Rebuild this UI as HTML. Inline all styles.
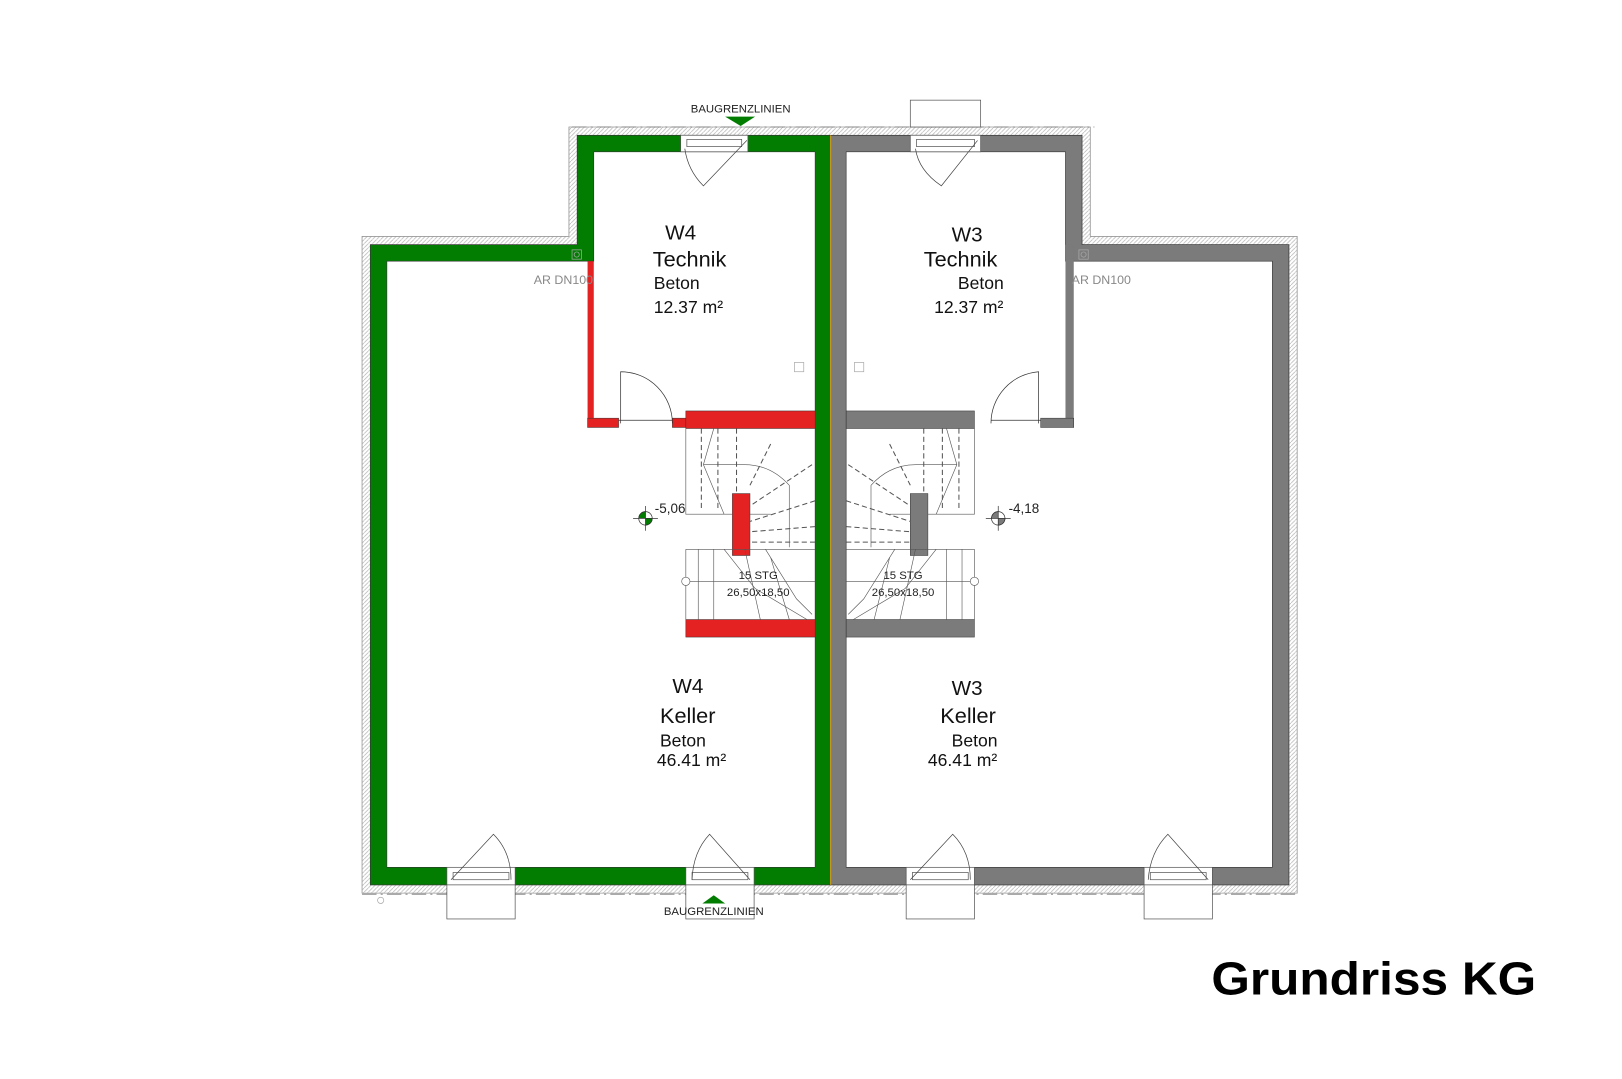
<!DOCTYPE html>
<html><head><meta charset="utf-8"><style>
html,body{margin:0;padding:0;background:#fff;overflow:hidden}
svg{display:block}
text{font-family:"Liberation Sans",sans-serif}
</style></head><body>
<svg width="1622" height="1079" viewBox="0 0 1568 1045" preserveAspectRatio="none" xmlns="http://www.w3.org/2000/svg">
<defs>
<pattern id="h" width="4" height="4" patternUnits="userSpaceOnUse"><path d="M0 4L4 0" stroke="#bbb" stroke-width="0.8"/></pattern>
</defs>
<rect width="1568" height="1045" fill="#fff"/>
<!-- hatched outer band -->
<path d="M350 229H550V123H1054V229H1254V865H350Z M358 237V857H1246V237H1046V131H558V237Z" fill="url(#h)" fill-rule="evenodd" stroke="#999" stroke-width="0.8"/>
<!-- dash-dot lines -->
<line x1="553" y1="123" x2="1058" y2="123" stroke="#777" stroke-width="0.8" stroke-dasharray="14 4 2 4"/>
<line x1="350" y1="866" x2="1256" y2="866" stroke="#777" stroke-width="0.8" stroke-dasharray="14 4 2 4"/>
<!-- green unit -->
<path d="M358 237H558V131H803V857H358Z M374 253V840H788V147H574V253Z" fill="#027d02" fill-rule="evenodd" stroke="#333" stroke-width="0.6"/>
<!-- grey unit -->
<path d="M803 131H1046V237H1246V857H803Z M818 147V840H1230V253H1030V147Z" fill="#7b7b7b" fill-rule="evenodd" stroke="#333" stroke-width="0.6"/>
<line x1="803" y1="131" x2="803" y2="857" stroke="#e0a020" stroke-width="1"/>
<!-- red interior walls -->
<rect x="568" y="253" width="6" height="161" fill="#e52222"/>
<rect x="568" y="405" width="30" height="9" fill="#e52222" stroke="#333" stroke-width="0.5"/>
<rect x="650" y="405" width="13" height="9" fill="#e52222" stroke="#333" stroke-width="0.5"/>
<rect x="663" y="398" width="125" height="17" fill="#e52222" stroke="#333" stroke-width="0.5"/>
<rect x="663" y="600" width="125" height="17" fill="#e52222" stroke="#333" stroke-width="0.5"/>
<rect x="708" y="478" width="17" height="60" fill="#e52222" stroke="#333" stroke-width="0.5"/>
<!-- grey interior walls -->
<rect x="1030" y="237" width="8" height="177" fill="#7b7b7b"/>
<rect x="1006" y="405" width="32" height="9" fill="#7b7b7b" stroke="#333" stroke-width="0.5"/>
<rect x="818" y="398" width="124" height="17" fill="#7b7b7b" stroke="#333" stroke-width="0.5"/>
<rect x="818" y="600" width="124" height="17" fill="#7b7b7b" stroke="#333" stroke-width="0.5"/>
<rect x="880" y="478" width="17" height="60" fill="#7b7b7b" stroke="#333" stroke-width="0.5"/>
<!-- technik doors -->
<g fill="none" stroke="#333" stroke-width="0.7">
<path d="M600 410V360A50 50 0 0 1 650 410"/>
<line x1="598" y1="407" x2="650" y2="407"/>
<path d="M1004 410V360A50 50 0 0 0 958 410"/>
<line x1="958" y1="407" x2="1006" y2="407"/>
</g>
<!-- top openings -->
<g fill="#fff" stroke="#555" stroke-width="0.7">
<rect x="658" y="131" width="65" height="16"/>
<rect x="664" y="135" width="53" height="7"/>
<rect x="880" y="131" width="68" height="16"/>
<rect x="886" y="135" width="56" height="7"/>
<rect x="880" y="97" width="68" height="26"/>
</g>
<g fill="none" stroke="#444" stroke-width="0.7">
<path d="M662 144Q665 165 680 180L722 136"/>
<path d="M885 144Q888 165 910 180L945 136"/>
</g>
<!-- bottom openings -->
<g fill="#fff" stroke="#555" stroke-width="0.7">
<rect x="432" y="840" width="66" height="17"/><rect x="438" y="845" width="54" height="7"/><rect x="432" y="857" width="66" height="33"/>
<rect x="663" y="840" width="66" height="17"/><rect x="669" y="845" width="54" height="7"/><rect x="663" y="857" width="66" height="33"/>
<rect x="876" y="840" width="66" height="17"/><rect x="882" y="845" width="54" height="7"/><rect x="876" y="857" width="66" height="33"/>
<rect x="1106" y="840" width="66" height="17"/><rect x="1112" y="845" width="54" height="7"/><rect x="1106" y="857" width="66" height="33"/>
</g>
<g fill="none" stroke="#444" stroke-width="0.7">
<path d="M436 852L477 808Q494 825 494 852"/>
<path d="M725 852L686 808Q670 825 669 852"/>
<path d="M880 852L921 808Q938 825 938 852"/>
<path d="M1168 852L1129 808Q1112 825 1110 852"/>
</g>
<!-- stairs left -->
<g fill="none" stroke="#555" stroke-width="0.6">
<path d="M663 415V498H708M725 498H745M663 532H788M663 532V600"/>
<path d="M680 450H720Q745 450 763 470V530"/>
<line x1="663" y1="563" x2="788" y2="563"/>
<path d="M680 450L690 415M680 450L700 498M740 532L770 580L785 595M700 532L730 570L780 600"/>
<line x1="690" y1="532" x2="690" y2="600"/><line x1="675" y1="532" x2="675" y2="600"/>
<line x1="720" y1="532" x2="735" y2="600"/><line x1="745" y1="540" x2="763" y2="600"/>
</g>
<g fill="none" stroke="#555" stroke-width="1" stroke-dasharray="5 3">
<path d="M678 415V495M694 415V495M712 415V478M745 430L725 470M785 450L725 490M788 485L725 505M788 510L725 515M788 525L725 525"/>
</g>
<circle cx="663" cy="563" r="4" fill="#fff" stroke="#555" stroke-width="0.6"/>
<!-- stairs right -->
<g fill="none" stroke="#555" stroke-width="0.6">
<path d="M942 415V498H897M880 498H860M942 532H818M942 532V600"/>
<path d="M925 450H885Q860 450 842 470V530"/>
<line x1="818" y1="563" x2="942" y2="563"/>
<path d="M925 450L915 415M925 450L905 498M865 532L835 580L820 595M905 532L875 570L825 600"/>
<line x1="915" y1="532" x2="915" y2="600"/><line x1="930" y1="532" x2="930" y2="600"/>
<line x1="885" y1="532" x2="870" y2="600"/><line x1="860" y1="540" x2="845" y2="600"/>
</g>
<g fill="none" stroke="#555" stroke-width="1" stroke-dasharray="5 3">
<path d="M927 415V495M911 415V495M893 415V478M860 430L880 470M820 450L880 490M818 485L880 505M818 510L880 515M818 525L880 525"/>
</g>
<circle cx="942" cy="563" r="4" fill="#fff" stroke="#555" stroke-width="0.6"/>
<!-- stair labels -->
<g font-size="11" fill="#222" text-anchor="middle">
<text x="733" y="561">15 STG</text><text x="733" y="577">26,50x18,50</text>
<text x="873" y="561">15 STG</text><text x="873" y="577">26,50x18,50</text>
</g>
<!-- level markers -->
<g stroke="#333" stroke-width="0.7">
<line x1="612" y1="502" x2="636" y2="502"/><line x1="624" y1="490" x2="624" y2="514"/>
<circle cx="624" cy="502" r="6.5" fill="#fff"/>
<path d="M624 502H630.5A6.5 6.5 0 0 1 624 508.5Z M624 502H617.5A6.5 6.5 0 0 1 624 495.5Z" fill="#027d02"/>
<line x1="953" y1="502" x2="977" y2="502"/><line x1="965" y1="490" x2="965" y2="514"/>
<circle cx="965" cy="502" r="6.5" fill="#fff"/>
<path d="M965 502H971.5A6.5 6.5 0 0 1 965 508.5Z M965 502H958.5A6.5 6.5 0 0 1 965 495.5Z" fill="#7b7b7b"/>
</g>
<text x="633" y="497" font-size="13" fill="#222">-5,06</text>
<text x="975" y="497" font-size="13" fill="#222">-4,18</text>
<!-- small drains -->
<g fill="none" stroke="#aaa" stroke-width="0.7">
<rect x="553" y="242" width="9" height="9"/><circle cx="557.5" cy="246.5" r="2.5"/>
<rect x="1043" y="242" width="9" height="9"/><circle cx="1047.5" cy="246.5" r="2.5"/>
<rect x="768" y="351" width="9" height="9"/><rect x="826" y="351" width="9" height="9"/>
<circle cx="368" cy="872" r="3"/>
</g>
<text x="516" y="275" font-size="12" fill="#888">AR DN100</text>
<text x="1036" y="275" font-size="12" fill="#888">AR DN100</text>
<!-- baugrenzlinien -->
<text x="716" y="109" font-size="11" fill="#222" text-anchor="middle">BAUGRENZLINIEN</text>
<path d="M701 113H730L716 122Z" fill="#027d02"/>
<path d="M679 875H701L690 867Z" fill="#027d02"/>
<text x="690" y="886" font-size="11" fill="#222" text-anchor="middle">BAUGRENZLINIEN</text>
<!-- room labels -->
<g fill="#111">
<text x="643" y="232" font-size="20">W4</text>
<text x="631" y="258" font-size="21">Technik</text>
<text x="632" y="280" font-size="17">Beton</text>
<text x="632" y="303" font-size="17">12.37 m²</text>
<text x="920" y="234" font-size="20">W3</text>
<text x="893" y="258" font-size="21">Technik</text>
<text x="926" y="280" font-size="17">Beton</text>
<text x="903" y="303" font-size="17">12.37 m²</text>
<text x="650" y="671" font-size="20">W4</text>
<text x="638" y="700" font-size="21">Keller</text>
<text x="638" y="723" font-size="17">Beton</text>
<text x="635" y="742" font-size="17">46.41 m²</text>
<text x="920" y="673" font-size="20">W3</text>
<text x="909" y="700" font-size="21">Keller</text>
<text x="920" y="723" font-size="17">Beton</text>
<text x="897" y="742" font-size="17">46.41 m²</text>
</g>
<text x="1171" y="963" font-size="45" font-weight="bold" fill="#000" textLength="314" lengthAdjust="spacingAndGlyphs">Grundriss KG</text>
</svg>
</body></html>
